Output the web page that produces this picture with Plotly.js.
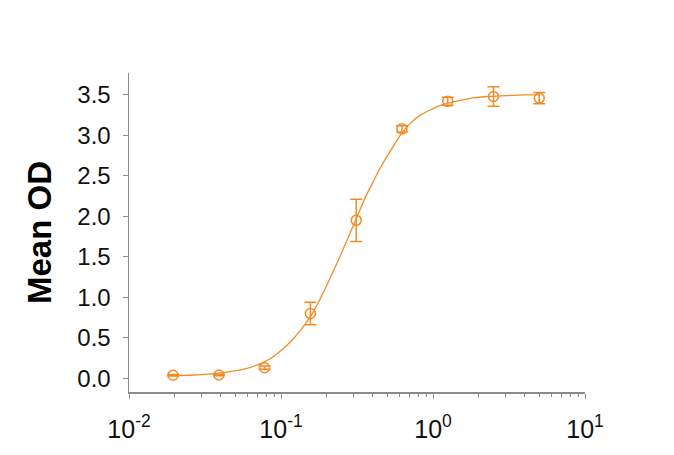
<!DOCTYPE html>
<html>
<head>
<meta charset="utf-8">
<script src="https://cdn.plot.ly/plotly-3.0.1.min.js"></script>
<style>html,body{margin:0;padding:0;background:#fff;}#chart{width:674px;height:455px;}</style>
</head>
<body>
<div id="chart"></div>
<script>
// Measured points (concentration, mean OD, error)
var concentration = [0.0195, 0.039, 0.078, 0.156, 0.3125, 0.625, 1.25, 2.5, 5.0];
var meanOD = [0.037, 0.04, 0.13, 0.80, 1.95, 3.08, 3.42, 3.48, 3.46];
var errorOD = [0.01, 0.01, 0.02, 0.14, 0.26, 0.04, 0.05, 0.12, 0.07];

// Fitted curve
var curveX = [0.0195, 0.0264, 0.035, 0.044, 0.058, 0.073, 0.085, 0.094, 0.104, 0.117, 0.13, 0.143, 0.156, 0.18, 0.211, 0.245, 0.28, 0.3125, 0.36, 0.40, 0.45, 0.53, 0.62, 0.72, 0.826, 0.95, 1.12, 1.4, 1.8, 2.27, 3.0, 4.0, 5.0];
var curveY = [0.03, 0.04, 0.055, 0.075, 0.115, 0.18, 0.24, 0.30, 0.37, 0.46, 0.56, 0.66, 0.76, 0.97, 1.24, 1.51, 1.76, 1.97, 2.24, 2.41, 2.60, 2.82, 3.02, 3.16, 3.25, 3.31, 3.37, 3.42, 3.46, 3.48, 3.49, 3.50, 3.50];

// Tick labels
var xTickVals = [0.01, 0.1, 1, 10];
var xTickText = ["10<sup>-2</sup>", "10<sup>-1</sup>", "10<sup>0</sup>", "10<sup>1</sup>"];
var yTickVals = [0, 0.5, 1, 1.5, 2, 2.5, 3, 3.5];
var yTickText = ["0.0", "0.5", "1.0", "1.5", "2.0", "2.5", "3.0", "3.5"];

var orange = "#f38b24";
var axisGrey = "#8c8c8c";

var traces = [
  {
    x: curveX, y: curveY, type: "scatter", mode: "lines",
    line: {color: orange, width: 1.3, shape: "spline", smoothing: 0.6},
    hoverinfo: "skip", showlegend: false
  },
  {
    x: concentration, y: meanOD, type: "scatter", mode: "markers",
    marker: {symbol: "circle-open", size: 10, color: orange, line: {color: orange, width: 1.5}},
    error_y: {type: "data", array: errorOD, visible: true, color: orange, thickness: 1.5, width: 6},
    showlegend: false
  }
];

var layout = {
  width: 674, height: 455,
  margin: {l: 129, r: 89, t: 73, b: 63, pad: 0},
  paper_bgcolor: "#fff", plot_bgcolor: "#fff",
  font: {family: "Liberation Sans, Arial, sans-serif", color: "#111"},
  xaxis: {
    type: "log", range: [-2, 1],
    tickvals: xTickVals, ticktext: xTickText,
    ticks: "outside", ticklen: 5, tickwidth: 1, tickcolor: axisGrey,
    minor: {ticks: "outside", ticklen: 3, tickwidth: 1, tickcolor: axisGrey, dtick: "D1", showgrid: false},
    showline: true, linecolor: axisGrey, linewidth: 1.5,
    showgrid: false, zeroline: false,
    tickfont: {size: 25, color: "#111"},
    ticklabelstandoff: 9
  },
  yaxis: {
    range: [-0.17, 3.77],
    tickvals: yTickVals, ticktext: yTickText,
    ticks: "outside", ticklen: 5, tickwidth: 1, tickcolor: axisGrey,
    showline: true, linecolor: axisGrey, linewidth: 1.5,
    showgrid: false, zeroline: false,
    tickfont: {size: 24, color: "#111"},
    ticklabelstandoff: 7,
    title: {text: "<b>Mean OD</b>", font: {size: 33, color: "#000"}, standoff: 16}
  }
};

Plotly.newPlot("chart", traces, layout, {displayModeBar: false, staticPlot: true});
</script>
</body>
</html>
